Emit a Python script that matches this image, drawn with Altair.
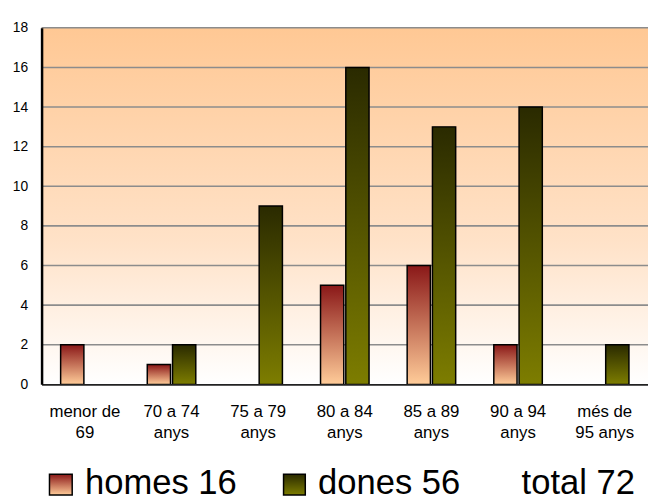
import altair as alt
import pandas as pd

# ---- data ----
line1 = ["menor de", "70 a 74", "75 a 79", "80 a 84", "85 a 89", "90 a 94", "més de"]
line2 = ["69", "anys", "anys", "anys", "anys", "anys", "95 anys"]
homes = [2, 1, 0, 5, 6, 2, 0]
dones = [0, 2, 9, 16, 13, 14, 2]
y_ticks = [0, 2, 4, 6, 8, 10, 12, 14, 16, 18]
legend_labels = ["homes 16", "dones 56", "total 72"]

cats = [a + "|" + b for a, b in zip(line1, line2)]
rows = []
for c, h, d in zip(cats, homes, dones):
    rows.append({"cat": c, "serie": "homes", "val": h})
    rows.append({"cat": c, "serie": "dones", "val": d})
df = pd.DataFrame(rows)
grid_df = pd.DataFrame({"val": y_ticks[1:]})

W, H = 614, 361

grad_h = alt.LinearGradient(gradient="linear", x1=0, y1=0, x2=0, y2=1,
                            stops=[alt.GradientStop(offset=0, color="#8a1818"),
                                   alt.GradientStop(offset=1, color="#ffcc99")])
grad_d = alt.LinearGradient(gradient="linear", x1=0, y1=0, x2=0, y2=1,
                            stops=[alt.GradientStop(offset=0, color="#2a2a00"),
                                   alt.GradientStop(offset=1, color="#7d7d00")])
grad_bg = alt.LinearGradient(gradient="linear", x1=0, y1=0, x2=0, y2=1,
                             stops=[alt.GradientStop(offset=0, color="#ffc894"),
                                    alt.GradientStop(offset=0.6, color="#ffe2c8"),
                                    alt.GradientStop(offset=1, color="#ffffff")])

yscale = alt.Scale(domain=[0, 18], nice=False)
yaxis = alt.Axis(title=None, values=y_ticks, ticks=False, grid=False,
                 labelFont="Liberation Sans", labelFontSize=14, labelColor="black",
                 labelPadding=14, domainColor="black", domainWidth=2.5, zindex=1)
X = alt.X("cat:N", sort=cats,
          scale=alt.Scale(paddingInner=0.44, paddingOuter=0.22),
          axis=alt.Axis(title=None, labelAngle=0, ticks=False,
                        labelExpr="split(datum.label, '|')",
                        labelFont="Liberation Sans", labelFontSize=17,
                        labelLineHeight=21, labelPadding=20, labelColor="black",
                        domainColor="#222222", domainWidth=2, zindex=1))
XO = alt.XOffset("serie:N", scale=alt.Scale(domain=["homes", "dones"], paddingInner=0.08))
Y = alt.Y("val:Q", scale=yscale, axis=yaxis)

bg = alt.Chart(alt.Data(values=[{"a": 1}])).mark_rect(color=grad_bg).encode(
    x=alt.value(0), x2=alt.value(W), y=alt.value(0), y2=alt.value(H))

grid = alt.Chart(grid_df).mark_rule(color="#8c8c8c", strokeWidth=1.6).encode(
    y=Y, x=alt.value(0), x2=alt.value(W))

bars_h = alt.Chart(df).transform_filter("datum.serie == 'homes' && datum.val > 0").mark_bar(
    color=grad_h, stroke="black", strokeWidth=1.5).encode(x=X, xOffset=XO, y=Y)
bars_d = alt.Chart(df).transform_filter("datum.serie == 'dones' && datum.val > 0").mark_bar(
    color=grad_d, stroke="black", strokeWidth=1.5).encode(x=X, xOffset=XO, y=Y)

one = alt.Data(values=[{"a": 1}])
sw_h = alt.Chart(one).mark_rect(color=grad_h, stroke="black", strokeWidth=1.5).encode(
    x=alt.value(8), x2=alt.value(31), y=alt.value(452), y2=alt.value(473))
sw_d = alt.Chart(one).mark_rect(color=grad_d, stroke="black", strokeWidth=1.5).encode(
    x=alt.value(245), x2=alt.value(267), y=alt.value(452), y2=alt.value(473))
txt_style = dict(font="Liberation Sans", fontSize=35, color="black", align="left", baseline="alphabetic")
t_h = alt.Chart(one).mark_text(**txt_style).encode(
    x=alt.value(44), y=alt.value(472), text=alt.value(legend_labels[0]))
t_d = alt.Chart(one).mark_text(**txt_style).encode(
    x=alt.value(280), y=alt.value(472), text=alt.value(legend_labels[1]))
t_t = alt.Chart(one).mark_text(**txt_style).encode(
    x=alt.value(486), y=alt.value(472), text=alt.value(legend_labels[2]))

chart = alt.layer(bg, grid, bars_h, bars_d, sw_h, sw_d, t_h, t_d, t_t).properties(
    width=W, height=H,
    autosize=alt.AutoSizeParams(type="none"),
    padding={"left": 34, "top": 17, "right": 0, "bottom": 114},
    background="white",
).configure_view(strokeWidth=0)

chart.save("out.html", embed_options={"renderer": "svg", "actions": False})
